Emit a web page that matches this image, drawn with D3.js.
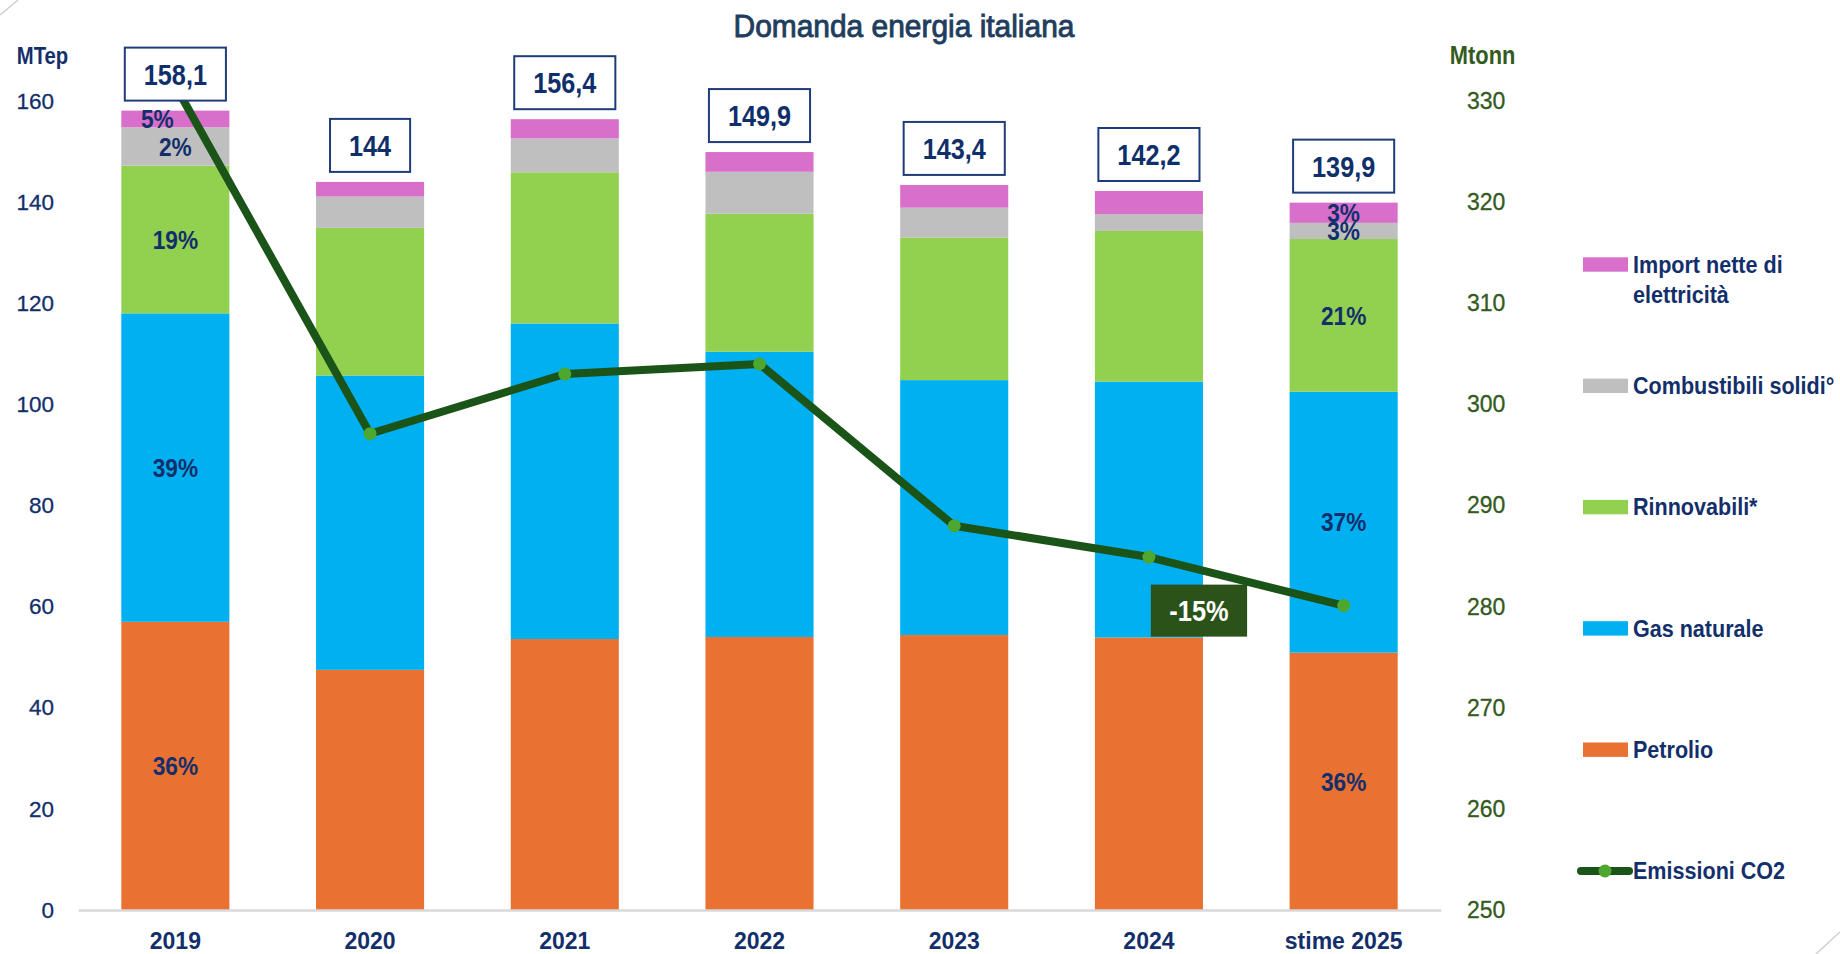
<!DOCTYPE html>
<html>
<head>
<meta charset="utf-8">
<script src="https://cdn.jsdelivr.net/npm/d3@7"></script>
<style>
  html, body { margin: 0; padding: 0; background: #ffffff; }
  svg { display: block; }
</style>
</head>
<body>
<svg id="chart" width="1840" height="954"></svg>
<script>
// ---------------- DATA ----------------
const categories = ['2019', '2020', '2021', '2022', '2023', '2024', 'stime 2025'];
const petrolio           = [57.0, 47.5, 53.6, 54.0, 54.4, 53.9, 50.9];
const gasNaturale        = [61.0, 58.2, 62.4, 56.4, 50.4, 50.6, 51.6];
const rinnovabili        = [29.2, 29.2, 29.9, 27.3, 28.2, 29.8, 30.2];
const combustibiliSolidi = [7.6, 6.2, 6.7, 8.3, 5.9, 3.3, 3.2];
const importElettricita  = [3.3, 2.9, 3.8, 3.9, 4.5, 4.6, 4.0];
const totals             = [158.1, 144, 156.4, 149.9, 143.4, 142.2, 139.9];
const emissioniCO2       = [331.5, 297.1, 303.0, 304.0, 288.0, 284.9, 280.1];

const seriesNames = ['Petrolio', 'Gas naturale', 'Rinnovabili*', 'Combustibili solidi°', 'Import nette di elettricità'];
const lineName = 'Emissioni CO2';
const leftTicks = [0, 20, 40, 60, 80, 100, 120, 140, 160];
const rightTicks = [250, 260, 270, 280, 290, 300, 310, 320, 330];
const leftUnit = 'MTep';
const rightUnit = 'Mtonn';
const title = 'Domanda energia italiana';
const changeLabel = '-15%';
const segmentLabels = [
  { cat: '2019', series: 'Petrolio', text: '36%' },
  { cat: '2019', series: 'Gas naturale', text: '39%' },
  { cat: '2019', series: 'Rinnovabili*', text: '19%' },
  { cat: '2019', series: 'Combustibili solidi°', text: '2%' },
  { cat: '2019', series: 'Import nette di elettricità', text: '5%' },
  { cat: 'stime 2025', series: 'Petrolio', text: '36%' },
  { cat: 'stime 2025', series: 'Gas naturale', text: '37%' },
  { cat: 'stime 2025', series: 'Rinnovabili*', text: '21%' },
  { cat: 'stime 2025', series: 'Combustibili solidi°', text: '3%' },
  { cat: 'stime 2025', series: 'Import nette di elettricità', text: '3%' }
];

// ---------------- STYLE ----------------
const seriesColors = ['#e97132', '#00b0f0', '#92d050', '#bfbfbf', '#d86fca'];
const NAVY = '#132f6b';
const GREEN_TXT = '#335a21';
const LINE_COLOR = '#1b5418';
const MARKER_COLOR = '#4ea72e';
const FONT = "'Liberation Sans', Arial, sans-serif";

const svg = d3.select('#chart');

// text helper: condensed look via horizontal scale around the anchor point
function addText(parent, x, y, str, o) {
  const t = parent.append('text')
    .attr('transform', `translate(${x},${y}) scale(${o.sx || 1},1)`)
    .attr('text-anchor', o.anchor || 'start')
    .attr('font-family', FONT)
    .attr('font-weight', o.weight || 'normal')
    .attr('font-size', o.size)
    .attr('fill', o.fill);
  if (o.dy) t.attr('dy', o.dy);
  if (o.stroke) t.attr('stroke', o.fill).attr('stroke-width', o.stroke);
  t.text(str);
  return t;
}

// ---------------- SCALES ----------------
const x = d3.scaleBand().domain(categories).range([78, 1441]).paddingInner(0.445).paddingOuter(0.2225);
const yL = d3.scaleLinear().domain([0, 160]).range([910, 101]);
const yR = d3.scaleLinear().domain([250, 330]).range([910, 101]);

// corner artefacts
svg.append('line').attr('x1', 0).attr('y1', 15).attr('x2', 18).attr('y2', 0)
  .attr('stroke', '#c8c8c8').attr('stroke-width', 1.2);
svg.append('line').attr('x1', 1816).attr('y1', 954).attr('x2', 1840).attr('y2', 932)
  .attr('stroke', '#c8c8c8').attr('stroke-width', 1.2);

// ---------------- TITLE ----------------
addText(svg, 904, 36.7, title, { anchor: 'middle', size: 31, fill: '#1f3d5e', sx: 0.965, stroke: 0.9 });

// ---------------- STACKED BARS ----------------
const rows = categories.map((c, i) => ({
  cat: c,
  'Petrolio': petrolio[i],
  'Gas naturale': gasNaturale[i],
  'Rinnovabili*': rinnovabili[i],
  'Combustibili solidi°': combustibiliSolidi[i],
  'Import nette di elettricità': importElettricita[i]
}));
const stacked = d3.stack().keys(seriesNames)(rows);

const barsG = svg.append('g');
stacked.forEach((layer, li) => {
  barsG.selectAll(null).data(layer).join('rect')
    .attr('x', d => x(d.data.cat))
    .attr('width', x.bandwidth())
    .attr('y', d => yL(d[1]))
    .attr('height', d => yL(d[0]) - yL(d[1]))
    .attr('fill', seriesColors[li]);
});

// ---------------- AXES ----------------
const xAxis = svg.append('g').attr('transform', 'translate(0,910)')
  .call(d3.axisBottom(x).tickSize(0).tickSizeOuter(0).tickPadding(23));
xAxis.select('.domain').attr('stroke', '#d9d9d9').attr('stroke-width', 2.5);
xAxis.selectAll('text').attr('font-family', FONT).attr('font-weight', 'bold')
  .attr('font-size', 23).attr('fill', NAVY);

const lAxis = svg.append('g').attr('transform', 'translate(57,0)')
  .call(d3.axisLeft(yL).tickValues(leftTicks).tickSize(0).tickPadding(3));
lAxis.select('.domain').remove();
lAxis.selectAll('text').attr('font-family', FONT).attr('font-size', 22.5).attr('fill', NAVY)
  .attr('stroke', NAVY).attr('stroke-width', 0.3);

const rAxis = svg.append('g').attr('transform', 'translate(1464,0)')
  .call(d3.axisRight(yR).tickValues(rightTicks).tickSize(0).tickPadding(3));
rAxis.select('.domain').remove();
rAxis.selectAll('text').attr('font-family', FONT).attr('font-size', 23).attr('fill', GREEN_TXT)
  .attr('stroke', GREEN_TXT).attr('stroke-width', 0.3);

addText(svg, 42.5, 64, leftUnit, { anchor: 'middle', weight: 'bold', size: 24, sx: 0.845, fill: NAVY });
addText(svg, 1482.6, 64.3, rightUnit, { anchor: 'middle', weight: 'bold', size: 26, sx: 0.84, fill: GREEN_TXT });

// ---------------- SEGMENT LABELS ----------------
const segG = svg.append('g');
segmentLabels.forEach(l => {
  const li = seriesNames.indexOf(l.series);
  const d = stacked[li].find(s => s.data.cat === l.cat);
  const dx = (l.cat === '2019' && li === 4) ? -18 : 0;
  addText(segG, x(l.cat) + x.bandwidth() / 2 + dx, (yL(d[0]) + yL(d[1])) / 2, l.text,
    { anchor: 'middle', weight: 'bold', size: 25.5, sx: 0.89, fill: NAVY, dy: '0.36em' });
});

// ---------------- CO2 LINE ----------------
svg.append('clipPath').attr('id', 'plotClip').append('rect')
  .attr('x', 0).attr('y', yR(330)).attr('width', 1840).attr('height', yR(250) - yR(330));
const pts = categories.map((c, i) => ({ cat: c, v: emissioniCO2[i] }));
const lineG = svg.append('g').attr('clip-path', 'url(#plotClip)');
lineG.append('path').datum(pts)
  .attr('d', d3.line().x(d => x(d.cat) + x.bandwidth() / 2).y(d => yR(d.v)))
  .attr('fill', 'none').attr('stroke', LINE_COLOR).attr('stroke-width', 8)
  .attr('stroke-linejoin', 'round');
lineG.selectAll('circle').data(pts).join('circle')
  .attr('cx', d => x(d.cat) + x.bandwidth() / 2).attr('cy', d => yR(d.v))
  .attr('r', 6.5).attr('fill', MARKER_COLOR);

// ---------------- TOTAL BOXES ----------------
const fmt = d3.formatLocale({ decimal: ',', thousands: '.', grouping: [3], currency: ['€', ''] }).format('.1~f');
const boxG = svg.append('g');
categories.forEach((c, i) => {
  const cx = x(c) + x.bandwidth() / 2;
  const boxH = 53;
  const bottom = yL(totals[i]) - 10;
  const g = boxG.append('g');
  const rect = g.append('rect');
  const sx = 0.87;
  const t = addText(g, cx, bottom - boxH / 2, fmt(totals[i]),
    { anchor: 'middle', weight: 'bold', size: 29, sx, fill: '#0f2f6b', dy: '0.36em' });
  const w = t.node().getComputedTextLength() * sx + 38;
  rect.attr('x', cx - w / 2).attr('y', bottom - boxH).attr('width', w).attr('height', boxH)
    .attr('fill', '#ffffff').attr('stroke', '#1f3c7a').attr('stroke-width', 2);
});

// ---------------- CHANGE LABEL (-15%) ----------------
{
  const last = categories.length - 1;
  const cx = x(categories[last - 1]) + x.bandwidth() - 4;
  const cy = yR(emissioniCO2[last]) + 5;
  const g = svg.append('g');
  const rect = g.append('rect');
  const sx = 0.876;
  const t = addText(g, cx, cy, changeLabel,
    { anchor: 'middle', weight: 'bold', size: 29, sx, fill: '#ffffff', dy: '0.36em' });
  const w = t.node().getComputedTextLength() * sx + 37;
  rect.attr('x', cx - w / 2).attr('y', cy - 26).attr('width', w).attr('height', 52)
    .attr('fill', '#2b5219');
}

// ---------------- LEGEND ----------------
const legendItems = [
  { lines: ['Import nette di', 'elettricità'], color: seriesColors[4] },
  { lines: ['Combustibili solidi°'], color: seriesColors[3] },
  { lines: ['Rinnovabili*'], color: seriesColors[2] },
  { lines: ['Gas naturale'], color: seriesColors[1] },
  { lines: ['Petrolio'], color: seriesColors[0] },
  { lines: [lineName], color: null }
];
const legG = svg.append('g');
legendItems.forEach((it, i) => {
  const cy = 264.5 + i * 121.3;
  if (it.color) {
    legG.append('rect').attr('x', 1583).attr('y', cy - 7.2).attr('width', 45).attr('height', 14.4)
      .attr('fill', it.color);
  } else {
    legG.append('line').attr('x1', 1581).attr('x2', 1629).attr('y1', cy).attr('y2', cy)
      .attr('stroke', LINE_COLOR).attr('stroke-width', 8).attr('stroke-linecap', 'round');
    legG.append('circle').attr('cx', 1605).attr('cy', cy).attr('r', 6.5).attr('fill', MARKER_COLOR);
  }
  it.lines.forEach((ln, k) => {
    addText(legG, 1633, cy + 8.3 + k * 30.6, ln,
      { weight: 'bold', size: 24.5, sx: 0.88, fill: NAVY });
  });
});
</script>
</body>
</html>
